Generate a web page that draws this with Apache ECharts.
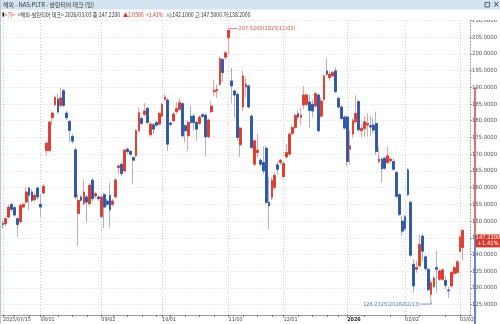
<!DOCTYPE html>
<html>
<head>
<meta charset="utf-8">
<script src="https://cdn.jsdelivr.net/npm/echarts@6/dist/echarts.min.js"></script>
<style>
  html, body { margin: 0; padding: 0; background: #fff; }
  #chart { width: 500px; height: 324px; }
</style>
</head>
<body>
<div id="chart"></div>
<script>
// trading days shown, per month
const tradingDays = [
  ['2025/07', [15, 16, 17, 18, 21, 22, 23, 24, 25, 28, 29, 30, 31]],
  ['2025/08', [1, 4, 5, 6, 7, 8, 11, 12, 13, 14, 15, 18, 19, 20, 21, 22, 25, 26, 27, 28, 29]],
  ['2025/09', [2, 3, 4, 5, 8, 9, 10, 11, 12, 15, 16, 17, 18, 19, 22, 23, 24, 25, 26, 29, 30]],
  ['2025/10', [1, 2, 3, 6, 7, 8, 9, 10, 13, 14, 15, 16, 17, 20, 21, 22, 23, 24, 27, 28, 29, 30, 31]],
  ['2025/11', [3, 4, 5, 6, 7, 10, 11, 12, 13, 14, 17, 18, 19, 20, 21, 24, 25, 26, 28]],
  ['2025/12', [1, 2, 3, 4, 5, 8, 9, 10, 11, 12, 15, 16, 17, 18, 19, 22, 23, 24, 26, 29, 30, 31]],
  ['2026/01', [2, 5, 6, 7, 8, 9, 12, 13, 14, 15, 16, 20, 21, 22, 23, 26, 27, 28, 29, 30]],
  ['2026/02', [2, 3, 4, 5, 6, 9, 10, 11, 12, 13, 17, 18, 19, 20, 23, 24, 25, 26, 27]],
  ['2026/03', [2, 3]]
];

const opens = [
  149.3, 149.2, 151.2, 155.0, 154.0, 150.7, 149.8, 154.2, 155.7, 159.9,
  158.7, 156.4, 159.9, 155.0, 158.4, 171.1, 171.1, 180.9, 184.8, 186.5,
  184.6, 189.0, 182.3, 179.8, 175.3, 171.3, 152.3, 157.2, 155.2, 157.2,
  155.2, 162.2, 157.5, 157.2, 151.3, 157.9, 156.0, 157.7, 155.0, 157.2,
  166.0, 167.0, 165.0, 171.5, 170.8, 169.0, 169.5, 177.0, 180.7, 181.9,
  183.7, 175.8, 178.8, 179.5, 179.0, 181.4, 186.4, 186.2, 179.3, 180.0,
  182.7, 183.4, 185.1, 178.5, 175.5, 181.4, 181.4, 179.5, 179.2, 181.8,
  181.7, 175.2, 182.7, 188.7, 189.0, 190.9, 198.3, 199.0, 204.8, 191.9,
  188.9, 187.9, 172.8, 184.1, 190.1, 190.4, 181.4, 167.0, 170.5, 168.2,
  167.5, 171.8, 155.6, 157.1, 160.1, 166.8, 167.5, 163.3, 169.2, 170.0,
  176.2, 178.0, 182.1, 181.0, 184.7, 184.9, 185.6, 184.9, 184.4, 187.7,
  181.4, 186.4, 194.9, 192.9, 193.4, 194.9, 186.7, 184.1, 181.1, 181.1,
  171.5, 176.0, 179.7, 185.7, 177.0, 177.7, 178.7, 178.5, 178.7, 179.2,
  167.8, 168.5, 168.8, 167.5, 168.0, 167.8, 164.5, 157.9, 150.0, 151.3,
  165.3, 155.6, 137.1, 135.6, 136.6, 145.5, 139.3, 135.6, 128.1, 130.4,
  136.1, 132.6, 132.6, 132.3, 129.4, 130.6, 134.3, 134.6, 141.0, 142.1
];
const closes = [
  148.9, 150.7, 154.2, 153.5, 151.8, 149.0, 154.7, 155.0, 158.7, 157.7,
  156.2, 157.7, 157.2, 154.2, 160.4, 173.3, 179.6, 182.3, 187.0, 182.6,
  186.8, 184.6, 180.9, 177.1, 173.9, 157.2, 156.2, 156.2, 158.7, 155.7,
  160.7, 156.7, 158.2, 156.7, 157.2, 154.2, 155.0, 153.3, 156.0, 162.3,
  166.5, 164.2, 171.2, 170.8, 170.0, 168.2, 177.0, 182.4, 179.2, 182.9,
  179.5, 179.0, 177.5, 178.7, 182.2, 184.9, 187.1, 173.0, 178.9, 182.0,
  183.6, 185.4, 175.5, 177.0, 179.5, 179.5, 179.5, 177.5, 181.1, 181.3,
  175.2, 180.2, 184.4, 189.1, 189.4, 198.6, 194.4, 200.3, 207.0, 190.4,
  187.7, 175.0, 177.8, 193.4, 190.9, 184.1, 172.0, 174.0, 171.2, 167.0,
  165.0, 155.6, 154.6, 162.1, 163.6, 165.5, 168.2, 167.2, 170.5, 176.0,
  178.0, 181.6, 181.1, 181.7, 187.7, 187.7, 183.1, 182.9, 188.1, 177.0,
  185.9, 193.4, 193.9, 193.9, 194.4, 188.7, 184.1, 180.7, 177.8, 167.8,
  172.5, 180.0, 182.2, 177.3, 177.7, 179.7, 179.2, 178.1, 177.2, 170.8,
  168.5, 165.6, 165.8, 169.5, 168.5, 165.5, 157.4, 152.0, 147.0, 147.7,
  157.9, 139.8, 130.6, 136.1, 143.0, 141.0, 135.8, 129.5, 131.6, 133.0,
  135.6, 135.1, 135.4, 130.8, 129.2, 134.6, 136.1, 137.8, 145.17, 147.22
];
const lows = [
  147.8, 148.5, 150.8, 152.8, 151.3, 145.3, 149.3, 153.6, 155.2, 153.3,
  155.6, 155.9, 156.2, 151.2, 157.9, 169.6, 170.5, 178.8, 184.2, 182.0,
  184.0, 184.0, 180.2, 173.5, 173.2, 156.5, 142.5, 155.6, 154.6, 149.5,
  154.6, 155.9, 156.8, 156.0, 150.8, 148.0, 154.3, 148.0, 154.4, 156.8,
  164.0, 163.5, 164.5, 170.0, 169.3, 161.0, 169.0, 176.5, 178.6, 181.3,
  179.0, 175.2, 176.0, 178.1, 178.5, 180.9, 185.8, 171.0, 178.3, 179.4,
  182.1, 182.9, 175.0, 173.5, 171.0, 179.0, 177.0, 174.0, 178.7, 180.8,
  169.5, 174.7, 182.2, 187.5, 186.8, 190.4, 191.6, 198.0, 200.0, 185.2,
  181.0, 174.0, 169.2, 182.9, 186.9, 183.6, 171.5, 166.5, 169.0, 166.4,
  164.0, 155.0, 147.6, 156.3, 159.4, 164.0, 166.8, 162.8, 168.7, 169.5,
  175.7, 177.5, 180.3, 178.8, 183.4, 184.4, 177.8, 181.0, 183.9, 176.5,
  180.9, 185.9, 193.3, 191.9, 192.9, 188.2, 183.6, 180.2, 177.3, 166.5,
  167.0, 175.0, 179.0, 176.8, 175.0, 175.3, 175.3, 175.5, 176.2, 169.8,
  167.3, 161.4, 165.3, 167.0, 167.5, 165.0, 156.9, 151.5, 145.7, 147.2,
  157.4, 139.3, 128.6, 134.5, 136.1, 138.0, 135.0, 129.0, 126.2325, 129.9,
  128.6, 132.1, 132.1, 129.6, 127.0, 130.1, 133.8, 134.1, 140.5, 138.2
];
const highs = [
  150.2, 151.2, 154.8, 155.5, 154.6, 151.2, 155.2, 155.6, 160.2, 160.4,
  159.5, 158.3, 160.3, 158.2, 161.0, 173.8, 180.0, 182.8, 187.5, 188.0,
  189.8, 189.5, 183.0, 180.2, 176.0, 172.0, 158.2, 157.8, 162.5, 157.8,
  161.3, 163.0, 158.8, 157.8, 157.8, 158.5, 156.6, 161.5, 156.6, 162.8,
  167.0, 167.6, 171.7, 172.0, 171.3, 169.5, 177.5, 184.0, 181.3, 185.3,
  184.2, 179.6, 179.3, 180.0, 182.7, 185.4, 188.0, 186.8, 179.8, 182.6,
  185.5, 186.7, 185.6, 179.0, 180.0, 184.4, 182.0, 180.0, 181.6, 182.3,
  182.2, 180.7, 186.0, 192.3, 190.8, 199.1, 198.8, 200.8, 207.52, 195.8,
  189.4, 188.4, 178.3, 194.9, 192.9, 190.9, 182.0, 174.5, 176.2, 168.8,
  172.4, 172.4, 163.2, 163.1, 164.6, 167.8, 168.6, 167.7, 173.0, 176.5,
  178.5, 182.1, 183.3, 183.8, 190.4, 188.2, 187.8, 186.3, 188.6, 188.2,
  187.0, 193.9, 198.8, 194.9, 194.9, 195.9, 187.2, 184.6, 181.6, 181.6,
  177.0, 180.8, 187.7, 186.2, 179.0, 181.5, 182.3, 181.3, 180.8, 182.7,
  172.2, 169.0, 169.3, 172.2, 169.0, 168.8, 165.0, 158.4, 151.5, 151.8,
  165.8, 156.1, 138.6, 138.0, 146.0, 146.3, 139.8, 136.1, 132.6, 133.5,
  141.2, 135.6, 135.9, 133.5, 130.4, 135.1, 136.6, 138.3, 146.0, 147.5
];

const labelDates = ['2025/07/15', '2025/08/01', '2025/09/02', '2025/10/01', '2025/11/03',
  '2025/12/01', '2026/01/02', '2026/02/02', '2026/03/02'];
const yearStart = '2026/01/02';
const maxMark = { date: '2025/11/03', value: 207.52 };
const minMark = { date: '2026/02/13', value: 126.2325 };
const lastClose = 147.22;
const lastChange = '+1.41%';
const rangeBarTop = 190;

const headerTitle = '해외 - NAS:PLTR - 팔란티어 테크 (일)';

const RED = '#dd3a2c';
const RED_WICK = '#eba49c';
const BLUE = '#2c55a6';
const BLUE_WICK = '#a5b6d4';

const dates = [];
tradingDays.forEach(([month, days]) => {
  days.forEach((d) => dates.push(month + '/' + String(d).padStart(2, '0')));
});

const fullCandles = dates.map((d, i) => [opens[i], closes[i], lows[i], highs[i]]);
const bodyCandles = dates.map((d, i) => {
  const lo = Math.min(opens[i], closes[i]);
  const hi = Math.max(opens[i], closes[i]);
  return [opens[i], closes[i], lo, hi];
});

const chart = echarts.init(document.getElementById('chart'), null, { renderer: 'canvas' });

function isMultipleOf5(v) {
  return Math.abs(v / 5 - Math.round(v / 5)) < 1e-6;
}

chart.setOption({
  animation: false,
  backgroundColor: '#fff',
  grid: { left: 0, right: 25, top: 20.4, bottom: 9, containLabel: false },
  xAxis: {
    type: 'category',
    data: dates.concat(['', '']),
    boundaryGap: true,
    axisLine: { lineStyle: { color: '#9a9a9a', width: 1 } },
    axisTick: {
      show: true,
      length: 2,
      alignWithLabel: true,
      lineStyle: { color: '#777' },
      interval: (idx, val) => labelDates.includes(val) || (val && new Date(val).getDay() === 1)
    },
    axisLabel: {
      interval: (idx, val) => labelDates.includes(val),
      align: 'left',
      margin: 2.5,
      fontSize: 5.4,
      fontFamily: 'DejaVu Sans Condensed, DejaVu Sans',
      color: '#444',
      formatter: (val) => {
        if (val === dates[0]) return val;
        if (val === yearStart) return '{y|2026}';
        return val.slice(5);
      },
      rich: { y: { fontSize: 5.4, fontWeight: 'bold', color: '#222' } }
    },
    splitLine: { show: false }
  },
  yAxis: {
    type: 'value',
    position: 'right',
    min: 121.92,
    max: 210,
    splitNumber: 18,
    scale: true,
    axisLine: { show: true, lineStyle: { color: '#9a9a9a', type: [1, 2] } },
    axisTick: { show: true, length: 2, lineStyle: { color: '#999' } },
    axisLabel: {
      margin: 2,
      fontSize: 5.8,
      fontFamily: 'DejaVu Sans Condensed, DejaVu Sans',
      color: '#555',
      formatter: (v) => (isMultipleOf5(v) ? v.toFixed(4) : '')
    },
    splitLine: { show: true, lineStyle: { color: '#d9d9d9', type: [1, 2] } }
  },
  series: [
    {
      // month gridlines, kept under the candles
      name: 'months',
      type: 'line',
      data: [],
      z: 1,
      markLine: {
        z: 1,
        silent: true,
        symbol: ['none', 'none'],
        label: { show: false },
        lineStyle: { color: '#cfcfcf', type: [1, 2], width: 1 },
        data: labelDates.map((d) => ({ xAxis: d }))
      }
    },
    {
      name: 'wick',
      type: 'candlestick',
      z: 3,
      data: fullCandles,
      barWidth: 2.3,
      itemStyle: {
        color: RED_WICK, color0: BLUE_WICK,
        borderColor: RED_WICK, borderColor0: BLUE_WICK, borderWidth: 1
      }
    },
    {
      name: 'body',
      type: 'candlestick',
      z: 4,
      data: bodyCandles,
      barWidth: 2.3,
      itemStyle: {
        color: RED, color0: BLUE,
        borderColor: RED, borderColor0: BLUE, borderWidth: 0.8
      }
    }
  ]
});

// annotations placed through the chart's own scales
const [maxX, maxY] = chart.convertToPixel({ seriesIndex: 1 }, [maxMark.date, maxMark.value]);
const [minX, minY] = chart.convertToPixel({ seriesIndex: 1 }, [minMark.date, minMark.value]);
const axisX = 500 - 25;
const yTop = chart.convertToPixel({ yAxisIndex: 0 }, rangeBarTop);
const yLast = chart.convertToPixel({ yAxisIndex: 0 }, lastClose);
const yBottom = chart.convertToPixel({ yAxisIndex: 0 }, 121.92);

const smallFont = '5.6px "DejaVu Sans Condensed", "DejaVu Sans"';

chart.setOption({
  graphic: [
    // axis range bar
    { type: 'line', z: 50, shape: { x1: axisX, y1: yTop, x2: axisX, y2: yLast + 4 }, style: { stroke: '#d0453a', lineWidth: 1.5 } },
    { type: 'line', z: 50, shape: { x1: axisX, y1: yLast + 4, x2: axisX, y2: yBottom + 9 }, style: { stroke: '#3a5fae', lineWidth: 1.5 } },
    // last price box
    { type: 'rect', z: 60, shape: { x: axisX + 0.5, y: yLast + 4, width: 24.5, height: 13 }, style: { fill: '#d63a2e' } },
    { type: 'text', z: 61, x: axisX + 13, y: yLast + 7.3, style: { text: lastClose.toFixed(4), font: '5.8px "DejaVu Sans Condensed"', fill: '#fff', align: 'center', verticalAlign: 'middle' } },
    { type: 'text', z: 61, x: axisX + 13, y: yLast + 13.5, style: { text: lastChange, font: '5.8px "DejaVu Sans Condensed"', fill: '#fff', align: 'center', verticalAlign: 'middle' } },
    // max annotation
    { type: 'line', z: 50, shape: { x1: maxX, y1: maxY, x2: maxX + 9, y2: maxY }, style: { stroke: '#c9574c', lineWidth: 0.8 } },
    { type: 'text', z: 50, x: maxX + 10, y: maxY, style: { text: maxMark.value.toFixed(4) + '(' + maxMark.date + ')', font: smallFont, fill: '#c9574c', verticalAlign: 'middle' } },
    // min annotation
    { type: 'polyline', z: 50, shape: { points: [[minX, minY], [minX, minY + 3.5], [minX - 10, minY + 3.5]] }, style: { stroke: '#5a78b0', lineWidth: 0.8, fill: null } },
    { type: 'text', z: 50, x: minX - 11, y: minY + 3.5, style: { text: minMark.value.toFixed(4) + '(' + minMark.date + ')', font: smallFont, fill: '#5a78b0', align: 'right', verticalAlign: 'middle' } },
    // header
    { type: 'rect', z: 100, shape: { x: 0, y: 0, width: 500, height: 20 }, style: { fill: '#fff' } },
    { type: 'rect', z: 101, shape: { x: 0, y: 0, width: 500, height: 9.5 }, style: { fill: '#d4e3f1' } },
    { type: 'text', z: 102, x: 3, y: 5, style: { text: headerTitle, font: '5.9px "Noto Sans CJK KR"', fill: '#333', verticalAlign: 'middle' } },
    { type: 'rect', z: 102, shape: { x: 485, y: 2.5, width: 4.5, height: 4.5 }, style: { fill: null, stroke: '#445', lineWidth: 0.8 } },
    { type: 'text', z: 102, x: 493, y: 5, style: { text: '×', font: '8px "DejaVu Sans"', fill: '#333', verticalAlign: 'middle' } },
    {
      type: 'text', z: 102, x: 2, y: 15, scaleX: 0.85,
      style: {
        text: '{k|▮}{r|<가>} {d|<해외-팔란티어 테크> 2026/03/03 종:147.2200} {r|▲2.0500  +1.41%} {d|시:142.1000 고:147.5000 저:138.2000}',
        verticalAlign: 'middle',
        rich: {
          k: { font: '5.5px "DejaVu Sans"', fill: '#222' },
          r: { font: '6px "Noto Sans CJK KR"', fill: '#d23a2e' },
          d: { font: '6px "Noto Sans CJK KR"', fill: '#333' }
        }
      }
    },
    { type: 'line', z: 101, shape: { x1: 0.5, y1: 0, x2: 0.5, y2: 324 }, style: { stroke: '#b9c9da', lineWidth: 1 } }
  ]
});
</script>
</body>
</html>
